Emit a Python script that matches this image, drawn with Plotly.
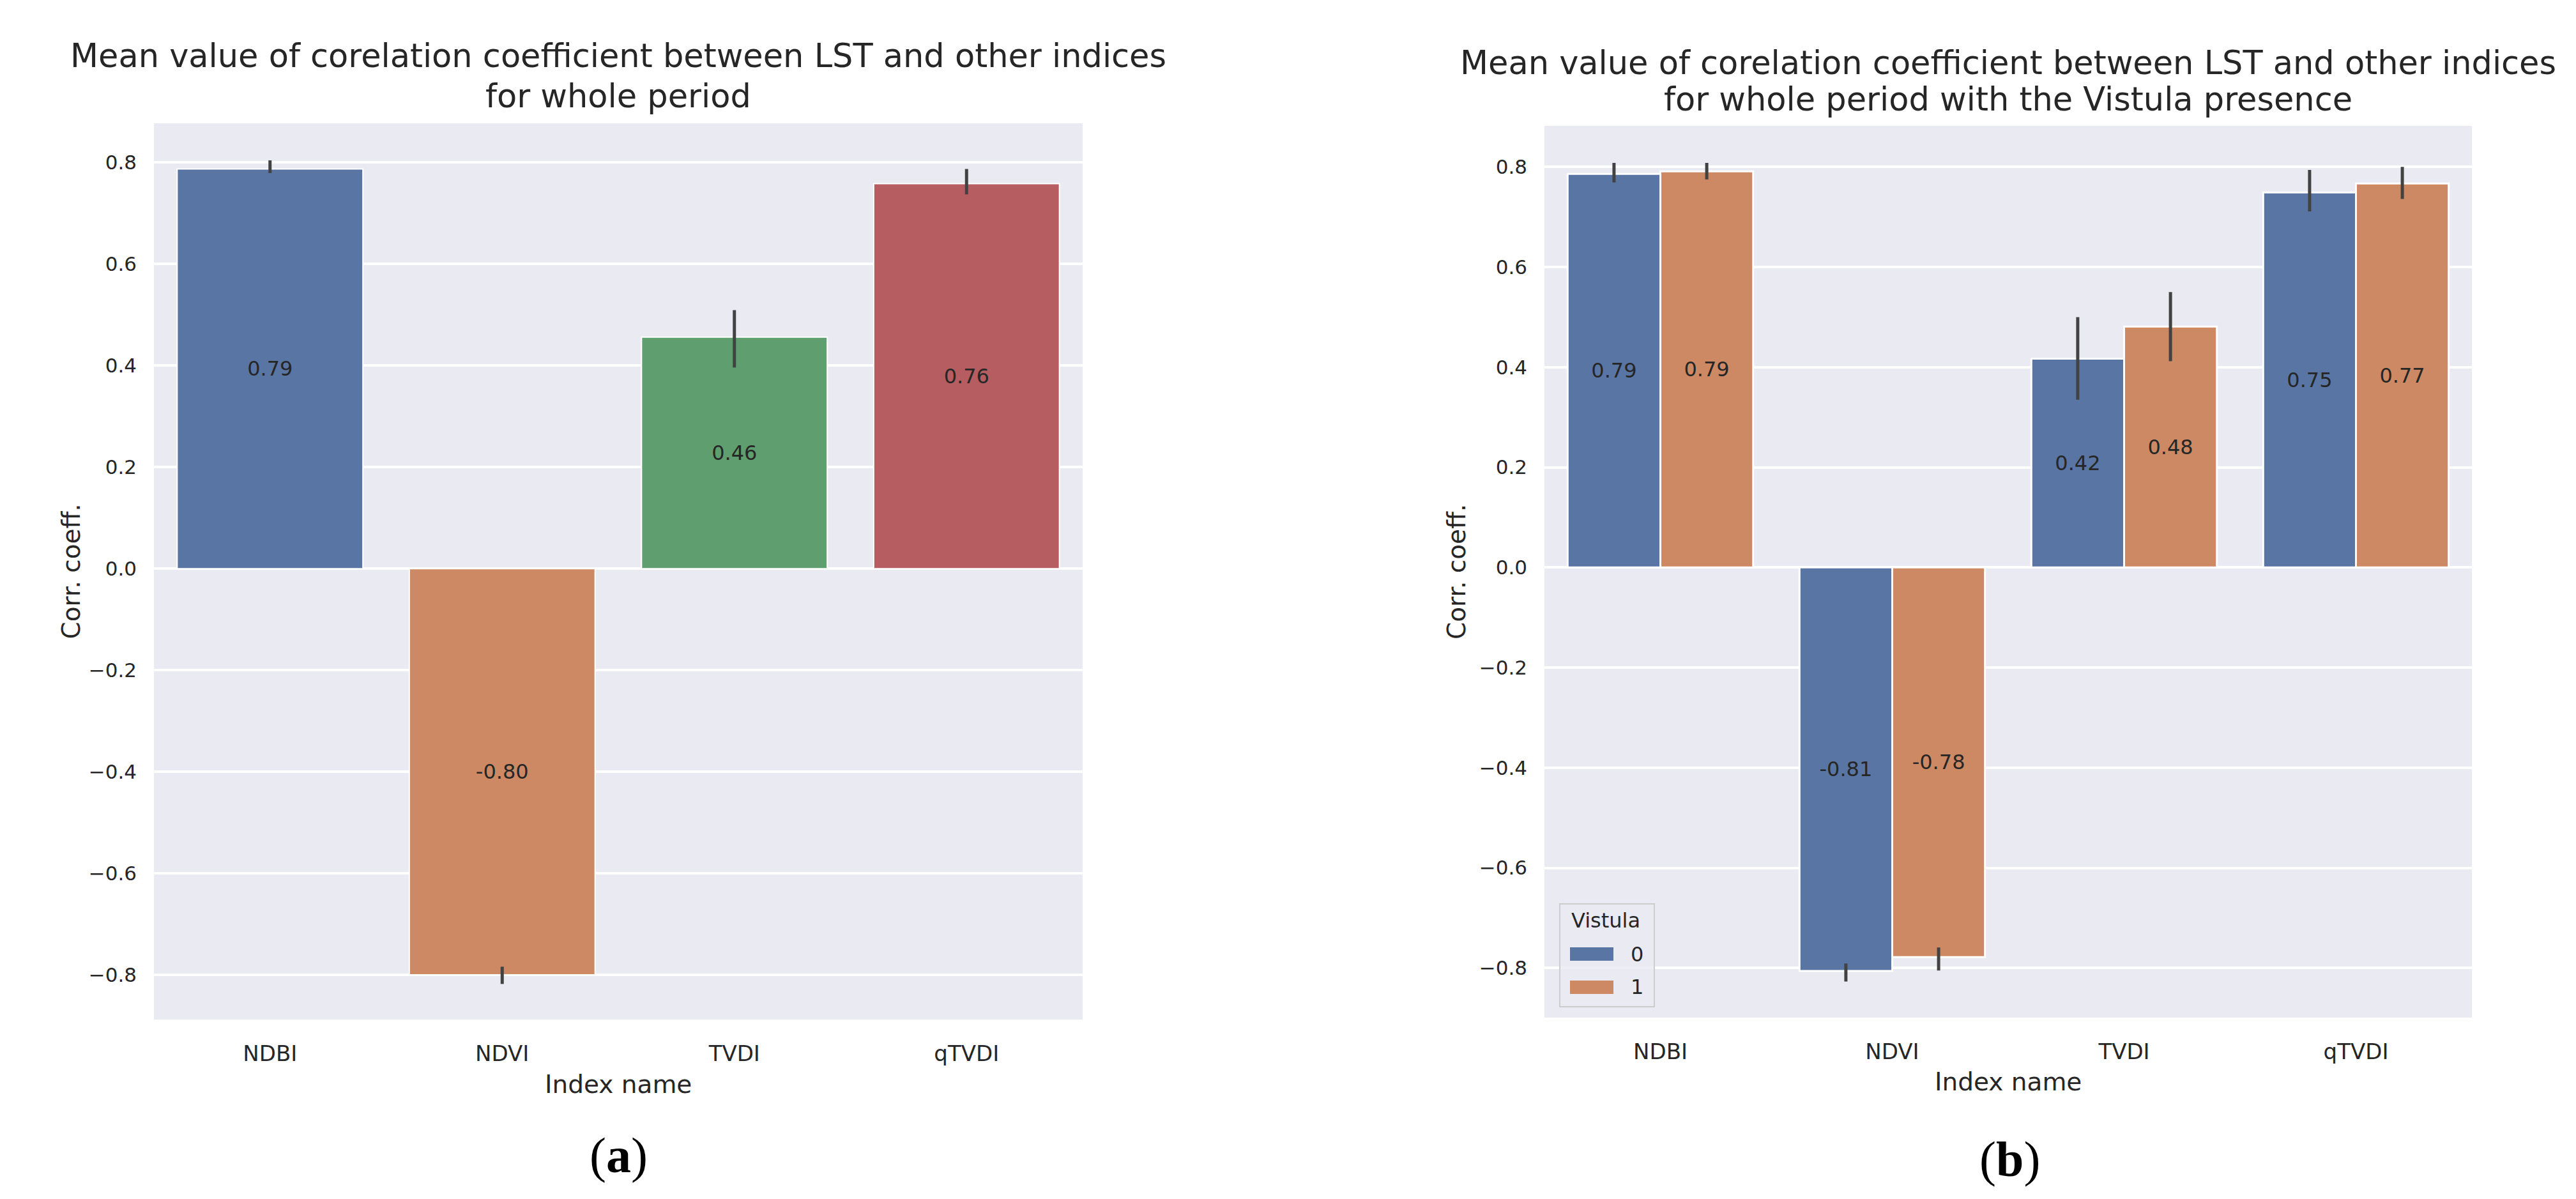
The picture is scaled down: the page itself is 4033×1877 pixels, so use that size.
import plotly.graph_objects as go

# ---------------- data ----------------
categories = ["NDBI", "NDVI", "TVDI", "qTVDI"]

# (a) whole period
mean_all = [0.787, -0.800, 0.456, 0.758]
ci_low_all = [0.779, -0.818, 0.396, 0.737]
ci_high_all = [0.804, -0.784, 0.509, 0.787]
colors_all = ["#5975A4", "#CC8963", "#5F9E6E", "#B55D60"]

# (b) with the Vistula presence (hue: 0 / 1)
vistula_levels = ["0", "1"]
mean_v0 = [0.786, -0.806, 0.417, 0.749]
ci_low_v0 = [0.769, -0.827, 0.335, 0.711]
ci_high_v0 = [0.808, -0.791, 0.500, 0.794]
mean_v1 = [0.791, -0.778, 0.481, 0.767]
ci_low_v1 = [0.775, -0.805, 0.412, 0.736]
ci_high_v1 = [0.808, -0.759, 0.550, 0.800]
colors_v = ["#5975A4", "#CC8963"]

title_a = ["Mean value of corelation coefficient between LST and other indices",
           "for whole period"]
title_b = ["Mean value of corelation coefficient between LST and other indices",
           "for whole period with the Vistula presence"]
xlabel = "Index name"
ylabel = "Corr. coeff."
legend_title = "Vistula"

# ---------------- layout constants ----------------
W, H = 4033, 1877
FONT = "DejaVu Sans"
TXT = "#262626"
BG = "#EAEAF2"
ERR = "#424242"

# plot areas in pixels (left, right, top, bottom)
A = (233, 1687, 185, 1588)
B = (2410, 3862, 189, 1585)


def xdom(p):
    return [p[0] / W, p[1] / W]


def ydom(p):
    return [1 - p[3] / H, 1 - p[2] / H]


def err_plus(m, hi):
    return [h - v for v, h in zip(m, hi)]


def err_minus(m, lo):
    return [v - l for v, l in zip(m, lo)]


def labels(m):
    return [f"{v:.2f}" for v in m]


fig = go.Figure()

bar_text_font = dict(family=FONT, size=32, color=TXT)

fig.add_trace(go.Bar(
    x=categories, y=mean_all, width=0.8,
    marker=dict(color=colors_all, line=dict(color="white", width=2)),
    error_y=dict(type="data", symmetric=False,
                 array=err_plus(mean_all, ci_high_all),
                 arrayminus=err_minus(mean_all, ci_low_all),
                 color=ERR, thickness=5, width=0),
    text=labels(mean_all), textposition="inside", insidetextanchor="middle",
    constraintext="none", textangle=0, textfont=bar_text_font,
    xaxis="x", yaxis="y", showlegend=False, name="all"))

for lvl, m, lo, hi, c in [(vistula_levels[0], mean_v0, ci_low_v0, ci_high_v0, colors_v[0]),
                          (vistula_levels[1], mean_v1, ci_low_v1, ci_high_v1, colors_v[1])]:
    fig.add_trace(go.Bar(
        x=categories, y=m, name=lvl,
        marker=dict(color=c, line=dict(color="white", width=3)),
        error_y=dict(type="data", symmetric=False,
                     array=err_plus(m, hi), arrayminus=err_minus(m, lo),
                     color=ERR, thickness=5, width=0),
        text=labels(m), textposition="inside", insidetextanchor="middle",
        constraintext="none", textangle=0, textfont=bar_text_font,
        xaxis="x2", yaxis="y2", showlegend=False))

xcommon = dict(type="category", range=[-0.5, 3.5], showgrid=False, zeroline=False,
               showline=False, ticks="", ticklabelstandoff=30,
               tickfont=dict(family=FONT, size=34, color=TXT), fixedrange=True)
ycommon = dict(dtick=0.2, tick0=0, tickformat=".1f", showgrid=True, gridcolor="white",
               gridwidth=4, zeroline=False, showline=False, ticks="",
               ticklabelstandoff=26, tickfont=dict(family=FONT, size=31, color=TXT),
               fixedrange=True)

fig.update_layout(
    width=W, height=H, margin=dict(l=0, r=0, t=0, b=0),
    paper_bgcolor="white", plot_bgcolor=BG,
    barmode="group", bargap=0.2, bargroupgap=0,
    font=dict(family=FONT, color=TXT),
    xaxis=dict(domain=xdom(A), anchor="y", categoryorder="array",
               categoryarray=categories, **xcommon),
    yaxis=dict(domain=ydom(A), anchor="x", range=[-0.888, 0.877], **ycommon),
    xaxis2=dict(domain=xdom(B), anchor="y2", categoryorder="array",
                categoryarray=categories, **xcommon),
    yaxis2=dict(domain=ydom(B), anchor="x2", range=[-0.899, 0.882], **ycommon),
)

ann = []


def add_text(x, y, text, size, family=FONT, angle=0, color=TXT):
    ann.append(dict(x=x / W, y=1 - y / H, xref="paper", yref="paper", text=text,
                    showarrow=False, xanchor="center", yanchor="middle",
                    textangle=angle, font=dict(family=family, size=size, color=color)))


# titles
add_text((A[0] + A[1]) / 2, 80, title_a[0], 51)
add_text((A[0] + A[1]) / 2, 143, title_a[1], 51)
add_text((B[0] + B[1]) / 2, 90, title_b[0], 51)
add_text((B[0] + B[1]) / 2, 147, title_b[1], 51)
# axis labels
add_text((A[0] + A[1]) / 2, 1689, xlabel, 39)
add_text((B[0] + B[1]) / 2, 1685, xlabel, 39)
add_text(103, (A[2] + A[3]) / 2, ylabel, 39, angle=-90)
add_text(2272, (B[2] + B[3]) / 2, ylabel, 39, angle=-90)
# captions
add_text(960, 1800, "(<b>a</b>)", 78, family="Liberation Serif", color="#000000")
add_text(3138, 1806, "(<b>b</b>)", 78, family="Liberation Serif", color="#000000")

# legend for panel (b), in axis-domain coordinates
def bx(px):
    return (px - B[0]) / (B[1] - B[0])


def by(py):
    return (B[3] - py) / (B[3] - B[2])


shapes = [
    dict(type="rect", xref="x2 domain", yref="y2 domain",
         x0=bx(2434), x1=bx(2582), y0=by(1568), y1=by(1407),
         line=dict(color="#CCCCCC", width=2), fillcolor="rgba(234,234,242,0.8)", layer="above"),
    dict(type="rect", xref="x2 domain", yref="y2 domain",
         x0=bx(2450), x1=bx(2518), y0=by(1496), y1=by(1475),
         line=dict(width=0), fillcolor=colors_v[0], layer="above"),
    dict(type="rect", xref="x2 domain", yref="y2 domain",
         x0=bx(2450), x1=bx(2518), y0=by(1548), y1=by(1527),
         line=dict(width=0), fillcolor=colors_v[1], layer="above"),
]
for txt, px, py in [(legend_title, 2506, 1433), (vistula_levels[0], 2555, 1486),
                    (vistula_levels[1], 2555, 1537)]:
    ann.append(dict(x=bx(px), y=by(py), xref="x2 domain", yref="y2 domain", text=txt,
                    showarrow=False, xanchor="center", yanchor="middle",
                    font=dict(family=FONT, size=32, color=TXT)))

fig.update_layout(annotations=ann, shapes=shapes)

fig.write_html("out.html")
